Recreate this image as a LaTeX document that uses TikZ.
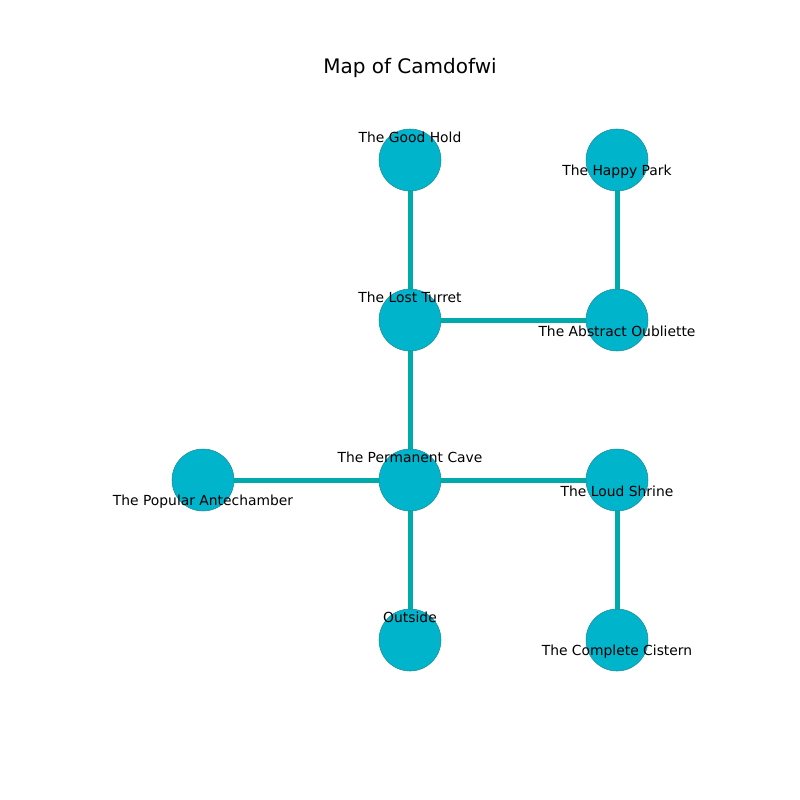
\documentclass[tikz,border=0pt]{standalone}
\usepackage{fontspec}
\setmainfont{DejaVu Sans}
\definecolor{nodefill}{HTML}{00B4CC}
\definecolor{nodeedge}{HTML}{1F8A99}
\definecolor{edgecol}{HTML}{00AAAA}
\pgfdeclarelayer{background}
\pgfsetlayers{background,main}
\begin{document}
\begin{tikzpicture}[x=0.75pt,y=-0.75pt,
  room/.style={circle,fill=nodefill,draw=nodeedge,line width=0.4pt,minimum size=46.5pt,inner sep=0pt},
  lab/.style={font=\fontsize{10.4}{12}\selectfont,inner sep=0pt,anchor=center},
  link/.style={edgecol,line width=3.75pt}]
\begin{pgfonlayer}{background}
\useasboundingbox[fill=white] (0,0) rectangle (800,800);
\end{pgfonlayer}
\node[font=\fontsize{15}{18}\selectfont] (title) at (410,68) {Map of Camdofwi};
\node[room] (good) at (410,160) {};
\node[room] (happy) at (617,160) {};
\node[room] (lost) at (410,320) {};
\node[room] (abstract) at (617,320) {};
\node[room] (popular) at (203,480) {};
\node[room] (perm) at (410,480) {};
\node[room] (loud) at (617,480) {};
\node[room] (outside) at (410,640) {};
\node[room] (cistern) at (617,640) {};
\begin{pgfonlayer}{background}
\draw[link] (good.center) -- (lost.center);
\draw[link] (happy.center) -- (abstract.center);
\draw[link] (lost.center) -- (abstract.center);
\draw[link] (lost.center) -- (perm.center);
\draw[link] (popular.center) -- (perm.center);
\draw[link] (perm.center) -- (loud.center);
\draw[link] (perm.center) -- (outside.center);
\draw[link] (loud.center) -- (cistern.center);
\end{pgfonlayer}
\node[lab] (lgood) at (410,137) {The Good Hold};
\node[lab] (lhappy) at (617,171.5) {The Happy Park};
\node[lab] (llost) at (410,297) {The Lost Turret};
\node[lab] (labstract) at (617,331) {The Abstract Oubliette};
\node[lab] (lpopular) at (203,502) {The Popular Antechamber};
\node[lab] (lperm) at (410,457) {The Permanent Cave};
\node[lab] (lloud) at (617,491) {The Loud Shrine};
\node[lab] (loutside) at (410,617) {Outside};
\node[lab] (lcistern) at (617,651.5) {The Complete Cistern};
\end{tikzpicture}
\end{document}
